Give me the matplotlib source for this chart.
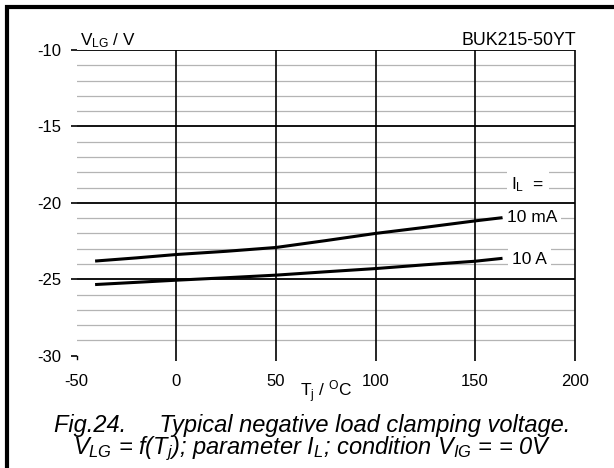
import matplotlib
matplotlib.use("Agg")
import matplotlib.pyplot as plt
from matplotlib.patches import Rectangle

plt.rcParams['font.family'] = ['Liberation Sans', 'DejaVu Sans']
plt.rcParams['mathtext.fontset'] = 'custom'
plt.rcParams['mathtext.rm'] = 'Liberation Sans'
plt.rcParams['mathtext.it'] = 'Liberation Sans:italic'
plt.rcParams['mathtext.bf'] = 'Liberation Sans:bold'
plt.rcParams['axes.unicode_minus'] = False

# datos (Tj en grados C, VLG en V)
tj = [-40, -20, 0, 25, 50, 75, 100, 125, 150, 163]
vlg_10mA = [-23.8, -23.6, -23.38, -23.17, -22.92, -22.47, -22.0, -21.6, -21.18, -20.98]
vlg_10A = [-25.34, -25.2, -25.06, -24.9, -24.73, -24.51, -24.3, -24.05, -23.82, -23.64]

x_ticks = [-50, 0, 50, 100, 150, 200]
y_ticks = [-30, -25, -20, -15, -10]
y_minor = [v for v in range(-29, -10) if v % 5 != 0]

fig = plt.figure(figsize=(6.14, 4.68), dpi=100)
ax = fig.add_axes([76.7 / 614, 1 - 355.7 / 468, 498 / 614, 305.7 / 468])
ax.set_xlim(-50, 200)
ax.set_ylim(-30, -10)
for s in ax.spines.values():
    s.set_visible(False)

# rejilla: finas grises cada 1 V, negras cada 5 V
for v in y_minor:
    ax.axhline(v, color='#b4b4b4', lw=0.9, zorder=1)
for v in y_ticks[1:]:
    ax.axhline(v, color='black', lw=1.3, zorder=2)
ax.vlines(x_ticks[1:], -30.33, -10, color='black', lw=1.2, zorder=2, clip_on=False)
ax.plot([-50, -50], [-30, -30.2], color='black', lw=1.0, clip_on=False)

ax.set_xticks(x_ticks)
ax.set_yticks(y_ticks)
ax.tick_params(axis='x', length=0, pad=13.5, labelsize=12)
ax.tick_params(axis='y', length=4, width=1.2, pad=7, labelsize=12)

# curvas
ax.plot(tj, vlg_10mA, color='black', lw=2.2, zorder=4)
ax.plot(tj, vlg_10A, color='black', lw=2.2, zorder=4)

box = dict(facecolor='white', edgecolor='none', pad=3)
ax.text(176.5, -18.8, 'I$_\\mathrm{L}$  =', fontsize=12.5, ha='center', va='center', bbox=box, zorder=5)
ax.text(178.5, -20.95, '10 mA', fontsize=12.5, ha='center', va='center', bbox=box, zorder=5)
ax.text(177.5, -23.7, '10 A', fontsize=12.5, ha='center', va='center', bbox=box, zorder=5)

fig.text(80 / 614, 1 - 45 / 468, 'V$_\\mathrm{LG}$ / V', fontsize=12.3, ha='left', va='baseline')
fig.text(576 / 614, 1 - 45 / 468, 'BUK215-50YT', fontsize=12.8, ha='right', va='baseline')
fig.text(326 / 614, 1 - 397 / 468, 'T$_\\mathrm{j}$ / $^\\mathrm{O}$C', fontsize=12.5, ha='center', va='baseline')

# pie de figura (dos lineas en un solo texto)
caption = ('Fig.24.     Typical negative load clamping voltage.\n'
           '$V_{LG}$ = f($T_j$); parameter $I_L$; condition $V_{IG}$ = = 0V')
fig.text(312 / 614, 1 - 454 / 468, caption, fontsize=17, style='italic',
         ha='center', va='baseline', multialignment='center', linespacing=0.85)

# marco exterior
fig.patches.append(Rectangle((7 / 614, -0.2), 1.2, 1.2 - 7 / 468, transform=fig.transFigure,
                             fill=False, edgecolor='black', lw=3))

plt.savefig('out.png', dpi=100)
